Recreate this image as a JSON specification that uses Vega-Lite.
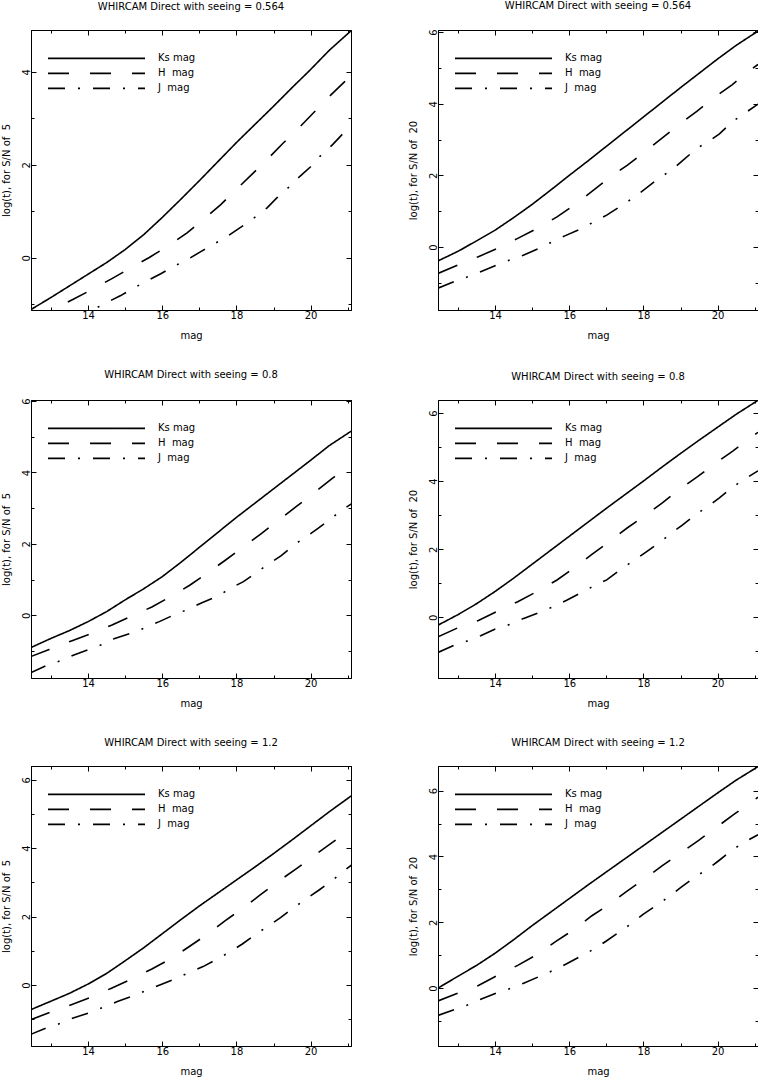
{
"$schema": "https://vega.github.io/schema/vega-lite/v6.json",
"padding": 0,
"background": "white",
"datasets": {
"p1": [
{"band":"Ks","mag":12.46,"logt":-1.11},{"band":"Ks","mag":13,"logt":-0.85},{"band":"Ks","mag":13.5,"logt":-0.6},{"band":"Ks","mag":14,"logt":-0.35},{"band":"Ks","mag":14.5,"logt":-0.1},{"band":"Ks","mag":15,"logt":0.18},{"band":"Ks","mag":15.5,"logt":0.5},{"band":"Ks","mag":16,"logt":0.87},{"band":"Ks","mag":16.5,"logt":1.26},{"band":"Ks","mag":17,"logt":1.66},{"band":"Ks","mag":17.5,"logt":2.07},{"band":"Ks","mag":18,"logt":2.48},{"band":"Ks","mag":18.5,"logt":2.87},{"band":"Ks","mag":19,"logt":3.26},{"band":"Ks","mag":19.5,"logt":3.66},{"band":"Ks","mag":20,"logt":4.05},{"band":"Ks","mag":20.5,"logt":4.46},{"band":"Ks","mag":21.1,"logt":4.89},
{"band":"H","mag":12.46,"logt":-1.38},{"band":"H","mag":13.08,"logt":-1.09},{"band":"H","mag":13.6,"logt":-0.89},{"band":"H","mag":14.1,"logt":-0.68},{"band":"H","mag":14.63,"logt":-0.45},{"band":"H","mag":15.14,"logt":-0.22},{"band":"H","mag":15.65,"logt":0.01},{"band":"H","mag":16.16,"logt":0.26},{"band":"H","mag":16.67,"logt":0.54},{"band":"H","mag":17.13,"logt":0.84},{"band":"H","mag":17.57,"logt":1.14},{"band":"H","mag":17.98,"logt":1.46},{"band":"H","mag":18.41,"logt":1.79},{"band":"H","mag":18.81,"logt":2.1},{"band":"H","mag":19.25,"logt":2.46},{"band":"H","mag":19.68,"logt":2.79},{"band":"H","mag":20.08,"logt":3.12},{"band":"H","mag":20.49,"logt":3.46},{"band":"H","mag":20.92,"logt":3.79},{"band":"H","mag":21.1,"logt":3.93},
{"band":"J","mag":12.46,"logt":-1.8},{"band":"J","mag":13.2,"logt":-1.5},{"band":"J","mag":14.14,"logt":-1.11},{"band":"J","mag":14.55,"logt":-0.94},{"band":"J","mag":14.88,"logt":-0.81},{"band":"J","mag":15.2,"logt":-0.66},{"band":"J","mag":15.65,"logt":-0.47},{"band":"J","mag":15.96,"logt":-0.34},{"band":"J","mag":16.32,"logt":-0.18},{"band":"J","mag":16.71,"logt":-0.02},{"band":"J","mag":17.05,"logt":0.14},{"band":"J","mag":17.4,"logt":0.3},{"band":"J","mag":17.8,"logt":0.49},{"band":"J","mag":18.12,"logt":0.66},{"band":"J","mag":18.44,"logt":0.84},{"band":"J","mag":18.82,"logt":1.07},{"band":"J","mag":19.09,"logt":1.29},{"band":"J","mag":19.36,"logt":1.48},{"band":"J","mag":19.72,"logt":1.76},{"band":"J","mag":20.0,"logt":1.96},{"band":"J","mag":20.26,"logt":2.19},{"band":"J","mag":20.6,"logt":2.44},{"band":"J","mag":20.87,"logt":2.67},{"band":"J","mag":21.1,"logt":2.85}
],
"p2": [
{"band":"Ks","mag":12.46,"logt":-0.39},{"band":"Ks","mag":13,"logt":-0.12},{"band":"Ks","mag":13.5,"logt":0.17},{"band":"Ks","mag":14,"logt":0.47},{"band":"Ks","mag":14.5,"logt":0.82},{"band":"Ks","mag":15,"logt":1.19},{"band":"Ks","mag":15.5,"logt":1.59},{"band":"Ks","mag":16,"logt":2.0},{"band":"Ks","mag":16.5,"logt":2.4},{"band":"Ks","mag":17,"logt":2.81},{"band":"Ks","mag":17.5,"logt":3.22},{"band":"Ks","mag":18,"logt":3.63},{"band":"Ks","mag":18.5,"logt":4.04},{"band":"Ks","mag":19,"logt":4.45},{"band":"Ks","mag":19.5,"logt":4.85},{"band":"Ks","mag":20,"logt":5.25},{"band":"Ks","mag":20.5,"logt":5.63},{"band":"Ks","mag":21.09,"logt":6.03},
{"band":"H","mag":12.46,"logt":-0.74},{"band":"H","mag":13.05,"logt":-0.48},{"band":"H","mag":13.55,"logt":-0.27},{"band":"H","mag":14.1,"logt":-0.02},{"band":"H","mag":14.61,"logt":0.24},{"band":"H","mag":15.17,"logt":0.54},{"band":"H","mag":15.67,"logt":0.84},{"band":"H","mag":16.16,"logt":1.19},{"band":"H","mag":16.62,"logt":1.56},{"band":"H","mag":17.1,"logt":1.95},{"band":"H","mag":17.56,"logt":2.28},{"band":"H","mag":18.05,"logt":2.67},{"band":"H","mag":18.51,"logt":3.05},{"band":"H","mag":18.99,"logt":3.44},{"band":"H","mag":19.44,"logt":3.79},{"band":"H","mag":19.92,"logt":4.18},{"band":"H","mag":20.39,"logt":4.53},{"band":"H","mag":20.86,"logt":4.92},{"band":"H","mag":21.09,"logt":5.1},
{"band":"J","mag":12.46,"logt":-1.15},{"band":"J","mag":12.94,"logt":-0.95},{"band":"J","mag":13.24,"logt":-0.84},{"band":"J","mag":13.61,"logt":-0.69},{"band":"J","mag":14.05,"logt":-0.5},{"band":"J","mag":14.41,"logt":-0.36},{"band":"J","mag":14.76,"logt":-0.23},{"band":"J","mag":15.23,"logt":-0.02},{"band":"J","mag":15.55,"logt":0.15},{"band":"J","mag":15.88,"logt":0.31},{"band":"J","mag":16.34,"logt":0.52},{"band":"J","mag":16.68,"logt":0.71},{"band":"J","mag":17.01,"logt":0.89},{"band":"J","mag":17.43,"logt":1.17},{"band":"J","mag":17.75,"logt":1.39},{"band":"J","mag":18.03,"logt":1.61},{"band":"J","mag":18.43,"logt":1.93},{"band":"J","mag":18.75,"logt":2.14},{"band":"J","mag":19.04,"logt":2.4},{"band":"J","mag":19.46,"logt":2.77},{"band":"J","mag":19.76,"logt":2.95},{"band":"J","mag":20.05,"logt":3.16},{"band":"J","mag":20.41,"logt":3.51},{"band":"J","mag":20.7,"logt":3.71},{"band":"J","mag":21.09,"logt":3.99}
],
"p3": [
{"band":"Ks","mag":12.43,"logt":-0.92},{"band":"Ks","mag":13,"logt":-0.65},{"band":"Ks","mag":13.5,"logt":-0.43},{"band":"Ks","mag":14,"logt":-0.18},{"band":"Ks","mag":14.5,"logt":0.1},{"band":"Ks","mag":15,"logt":0.43},{"band":"Ks","mag":15.5,"logt":0.74},{"band":"Ks","mag":16,"logt":1.08},{"band":"Ks","mag":16.5,"logt":1.48},{"band":"Ks","mag":17,"logt":1.9},{"band":"Ks","mag":17.5,"logt":2.32},{"band":"Ks","mag":18,"logt":2.74},{"band":"Ks","mag":18.5,"logt":3.14},{"band":"Ks","mag":19,"logt":3.54},{"band":"Ks","mag":19.5,"logt":3.94},{"band":"Ks","mag":20,"logt":4.34},{"band":"Ks","mag":20.5,"logt":4.75},{"band":"Ks","mag":21.1,"logt":5.16},
{"band":"H","mag":12.43,"logt":-1.17},{"band":"H","mag":12.95,"logt":-0.96},{"band":"H","mag":13.55,"logt":-0.72},{"band":"H","mag":14.09,"logt":-0.51},{"band":"H","mag":14.63,"logt":-0.28},{"band":"H","mag":15.18,"logt":-0.02},{"band":"H","mag":15.72,"logt":0.23},{"band":"H","mag":16.26,"logt":0.54},{"band":"H","mag":16.74,"logt":0.84},{"band":"H","mag":17.26,"logt":1.21},{"band":"H","mag":17.7,"logt":1.54},{"band":"H","mag":18.22,"logt":1.94},{"band":"H","mag":18.68,"logt":2.29},{"band":"H","mag":19.17,"logt":2.69},{"band":"H","mag":19.61,"logt":3.04},{"band":"H","mag":20.09,"logt":3.43},{"band":"H","mag":20.56,"logt":3.81},{"band":"H","mag":21.01,"logt":4.18},{"band":"H","mag":21.1,"logt":4.25},
{"band":"J","mag":12.43,"logt":-1.62},{"band":"J","mag":12.9,"logt":-1.4},{"band":"J","mag":13.25,"logt":-1.28},{"band":"J","mag":13.6,"logt":-1.12},{"band":"J","mag":14.05,"logt":-0.95},{"band":"J","mag":14.41,"logt":-0.81},{"band":"J","mag":14.72,"logt":-0.65},{"band":"J","mag":15.2,"logt":-0.49},{"band":"J","mag":15.54,"logt":-0.35},{"band":"J","mag":15.92,"logt":-0.18},{"band":"J","mag":16.36,"logt":0.03},{"band":"J","mag":16.71,"logt":0.17},{"band":"J","mag":17.07,"logt":0.35},{"band":"J","mag":17.51,"logt":0.54},{"band":"J","mag":17.83,"logt":0.75},{"band":"J","mag":18.19,"logt":0.94},{"band":"J","mag":18.57,"logt":1.22},{"band":"J","mag":18.89,"logt":1.45},{"band":"J","mag":19.2,"logt":1.66},{"band":"J","mag":19.58,"logt":1.99},{"band":"J","mag":19.88,"logt":2.2},{"band":"J","mag":20.2,"logt":2.43},{"band":"J","mag":20.58,"logt":2.73},{"band":"J","mag":20.88,"logt":2.97},{"band":"J","mag":21.1,"logt":3.12}
],
"p4": [
{"band":"Ks","mag":12.46,"logt":-0.23},{"band":"Ks","mag":13,"logt":0.08},{"band":"Ks","mag":13.5,"logt":0.4},{"band":"Ks","mag":14,"logt":0.76},{"band":"Ks","mag":14.5,"logt":1.15},{"band":"Ks","mag":15,"logt":1.56},{"band":"Ks","mag":15.5,"logt":1.97},{"band":"Ks","mag":16,"logt":2.38},{"band":"Ks","mag":16.5,"logt":2.79},{"band":"Ks","mag":17,"logt":3.2},{"band":"Ks","mag":17.5,"logt":3.6},{"band":"Ks","mag":18,"logt":4.0},{"band":"Ks","mag":18.5,"logt":4.41},{"band":"Ks","mag":19,"logt":4.81},{"band":"Ks","mag":19.5,"logt":5.2},{"band":"Ks","mag":20,"logt":5.58},{"band":"Ks","mag":20.5,"logt":5.96},{"band":"Ks","mag":21.09,"logt":6.37},
{"band":"H","mag":12.46,"logt":-0.57},{"band":"H","mag":13.01,"logt":-0.3},{"band":"H","mag":13.55,"logt":-0.09},{"band":"H","mag":14.1,"logt":0.2},{"band":"H","mag":14.61,"logt":0.46},{"band":"H","mag":15.15,"logt":0.77},{"band":"H","mag":15.66,"logt":1.09},{"band":"H","mag":16.14,"logt":1.46},{"band":"H","mag":16.61,"logt":1.85},{"band":"H","mag":17.1,"logt":2.24},{"band":"H","mag":17.57,"logt":2.63},{"band":"H","mag":18.05,"logt":2.99},{"band":"H","mag":18.51,"logt":3.36},{"band":"H","mag":18.99,"logt":3.77},{"band":"H","mag":19.46,"logt":4.13},{"band":"H","mag":19.94,"logt":4.52},{"band":"H","mag":20.41,"logt":4.88},{"band":"H","mag":20.88,"logt":5.27},{"band":"H","mag":21.09,"logt":5.43},
{"band":"J","mag":12.46,"logt":-1.03},{"band":"J","mag":12.94,"logt":-0.8},{"band":"J","mag":13.26,"logt":-0.69},{"band":"J","mag":13.61,"logt":-0.54},{"band":"J","mag":13.99,"logt":-0.35},{"band":"J","mag":14.42,"logt":-0.2},{"band":"J","mag":14.77,"logt":-0.03},{"band":"J","mag":15.23,"logt":0.16},{"band":"J","mag":15.57,"logt":0.31},{"band":"J","mag":15.93,"logt":0.5},{"band":"J","mag":16.36,"logt":0.75},{"band":"J","mag":16.68,"logt":0.93},{"band":"J","mag":17.01,"logt":1.1},{"band":"J","mag":17.4,"logt":1.42},{"band":"J","mag":17.73,"logt":1.66},{"band":"J","mag":18.05,"logt":1.9},{"band":"J","mag":18.46,"logt":2.22},{"band":"J","mag":18.74,"logt":2.46},{"band":"J","mag":19.04,"logt":2.7},{"band":"J","mag":19.44,"logt":3.04},{"band":"J","mag":19.76,"logt":3.27},{"band":"J","mag":20.04,"logt":3.5},{"band":"J","mag":20.43,"logt":3.84},{"band":"J","mag":20.73,"logt":4.06},{"band":"J","mag":21.09,"logt":4.3}
],
"p5": [
{"band":"Ks","mag":12.43,"logt":-0.73},{"band":"Ks","mag":13,"logt":-0.47},{"band":"Ks","mag":13.5,"logt":-0.24},{"band":"Ks","mag":14,"logt":0.03},{"band":"Ks","mag":14.5,"logt":0.34},{"band":"Ks","mag":15,"logt":0.71},{"band":"Ks","mag":15.5,"logt":1.09},{"band":"Ks","mag":16,"logt":1.5},{"band":"Ks","mag":16.5,"logt":1.91},{"band":"Ks","mag":17,"logt":2.31},{"band":"Ks","mag":17.5,"logt":2.69},{"band":"Ks","mag":18,"logt":3.07},{"band":"Ks","mag":18.5,"logt":3.45},{"band":"Ks","mag":19,"logt":3.84},{"band":"Ks","mag":19.5,"logt":4.24},{"band":"Ks","mag":20,"logt":4.65},{"band":"Ks","mag":20.5,"logt":5.06},{"band":"Ks","mag":21.1,"logt":5.53},
{"band":"H","mag":12.43,"logt":-1.02},{"band":"H","mag":12.97,"logt":-0.8},{"band":"H","mag":13.53,"logt":-0.58},{"band":"H","mag":14.14,"logt":-0.33},{"band":"H","mag":14.63,"logt":-0.09},{"band":"H","mag":15.2,"logt":0.19},{"band":"H","mag":15.72,"logt":0.47},{"band":"H","mag":16.25,"logt":0.78},{"band":"H","mag":16.72,"logt":1.12},{"band":"H","mag":17.25,"logt":1.51},{"band":"H","mag":17.7,"logt":1.88},{"band":"H","mag":18.2,"logt":2.27},{"band":"H","mag":18.65,"logt":2.64},{"band":"H","mag":19.13,"logt":3.03},{"band":"H","mag":19.62,"logt":3.4},{"band":"H","mag":20.1,"logt":3.79},{"band":"H","mag":20.58,"logt":4.16},{"band":"H","mag":21.07,"logt":4.55},{"band":"H","mag":21.1,"logt":4.57},
{"band":"J","mag":12.43,"logt":-1.45},{"band":"J","mag":12.9,"logt":-1.24},{"band":"J","mag":13.25,"logt":-1.12},{"band":"J","mag":13.6,"logt":-0.96},{"band":"J","mag":14.06,"logt":-0.8},{"band":"J","mag":14.41,"logt":-0.65},{"band":"J","mag":14.79,"logt":-0.48},{"band":"J","mag":15.23,"logt":-0.31},{"band":"J","mag":15.59,"logt":-0.15},{"band":"J","mag":15.95,"logt":0.01},{"band":"J","mag":16.39,"logt":0.2},{"band":"J","mag":16.73,"logt":0.37},{"band":"J","mag":17.1,"logt":0.54},{"band":"J","mag":17.52,"logt":0.78},{"band":"J","mag":17.84,"logt":0.98},{"band":"J","mag":18.16,"logt":1.2},{"band":"J","mag":18.56,"logt":1.51},{"band":"J","mag":18.89,"logt":1.75},{"band":"J","mag":19.19,"logt":1.97},{"band":"J","mag":19.58,"logt":2.29},{"band":"J","mag":19.9,"logt":2.53},{"band":"J","mag":20.22,"logt":2.77},{"band":"J","mag":20.6,"logt":3.07},{"band":"J","mag":20.9,"logt":3.34},{"band":"J","mag":21.1,"logt":3.5}
],
"p6": [
{"band":"Ks","mag":12.46,"logt":0.0},{"band":"Ks","mag":13,"logt":0.36},{"band":"Ks","mag":13.5,"logt":0.69},{"band":"Ks","mag":14,"logt":1.06},{"band":"Ks","mag":14.5,"logt":1.47},{"band":"Ks","mag":15,"logt":1.9},{"band":"Ks","mag":15.5,"logt":2.31},{"band":"Ks","mag":16,"logt":2.72},{"band":"Ks","mag":16.5,"logt":3.13},{"band":"Ks","mag":17,"logt":3.53},{"band":"Ks","mag":17.5,"logt":3.93},{"band":"Ks","mag":18,"logt":4.33},{"band":"Ks","mag":18.5,"logt":4.73},{"band":"Ks","mag":19,"logt":5.13},{"band":"Ks","mag":19.5,"logt":5.53},{"band":"Ks","mag":20,"logt":5.93},{"band":"Ks","mag":20.5,"logt":6.32},{"band":"Ks","mag":21.09,"logt":6.73},
{"band":"H","mag":12.46,"logt":-0.39},{"band":"H","mag":13.01,"logt":-0.15},{"band":"H","mag":13.55,"logt":0.08},{"band":"H","mag":14.1,"logt":0.41},{"band":"H","mag":14.61,"logt":0.69},{"band":"H","mag":15.15,"logt":1.03},{"band":"H","mag":15.64,"logt":1.42},{"band":"H","mag":16.14,"logt":1.79},{"band":"H","mag":16.61,"logt":2.2},{"band":"H","mag":17.1,"logt":2.56},{"band":"H","mag":17.55,"logt":2.94},{"band":"H","mag":18.05,"logt":3.34},{"band":"H","mag":18.51,"logt":3.72},{"band":"H","mag":18.99,"logt":4.1},{"band":"H","mag":19.49,"logt":4.49},{"band":"H","mag":19.96,"logt":4.88},{"band":"H","mag":20.43,"logt":5.27},{"band":"H","mag":20.93,"logt":5.67},{"band":"H","mag":21.09,"logt":5.8},
{"band":"J","mag":12.46,"logt":-0.83},{"band":"J","mag":12.94,"logt":-0.64},{"band":"J","mag":13.27,"logt":-0.51},{"band":"J","mag":13.63,"logt":-0.33},{"band":"J","mag":14.04,"logt":-0.15},{"band":"J","mag":14.44,"logt":0.0},{"band":"J","mag":14.77,"logt":0.15},{"band":"J","mag":15.23,"logt":0.37},{"band":"J","mag":15.57,"logt":0.54},{"band":"J","mag":15.93,"logt":0.74},{"band":"J","mag":16.33,"logt":0.98},{"band":"J","mag":16.69,"logt":1.2},{"band":"J","mag":17.01,"logt":1.44},{"band":"J","mag":17.37,"logt":1.72},{"band":"J","mag":17.7,"logt":1.98},{"band":"J","mag":18.0,"logt":2.25},{"band":"J","mag":18.4,"logt":2.55},{"band":"J","mag":18.7,"logt":2.79},{"band":"J","mag":19.01,"logt":3.06},{"band":"J","mag":19.41,"logt":3.39},{"band":"J","mag":19.74,"logt":3.62},{"band":"J","mag":20.03,"logt":3.87},{"band":"J","mag":20.4,"logt":4.2},{"band":"J","mag":20.71,"logt":4.43},{"band":"J","mag":21.09,"logt":4.66}
]
},
"config": {
"font": "DejaVu Sans",
"view": {"stroke": "black", "strokeWidth": 1},
"axis": {"domainColor": "black", "domainWidth": 1, "tickColor": "black", "tickWidth": 1, "labelColor": "black", "titleColor": "black", "labelFont": "DejaVu Sans", "titleFont": "DejaVu Sans", "labelFontSize": 10, "titleFontSize": 10, "titleFontWeight": "normal", "grid": false, "labelFlush": false, "labelOverlap": false, "labelBound": false},
"axisLeft": {"labelAngle": 270, "labelAlign": "center", "labelBaseline": "alphabetic", "labelPadding": 7, "titlePadding": 8},
"axisBottom": {"labelPadding": 5, "titlePadding": 8},
"title": {"fontSize": 10, "fontWeight": "normal", "font": "DejaVu Sans", "color": "black", "offset": 18},
"style": {"group-title": {"fontWeight": "normal", "fontSize": 10}},
"legend": {"title": null, "orient": "none", "legendX": 16, "legendY": 21, "symbolType": "stroke", "symbolSize": 9409, "symbolStrokeWidth": 1.6, "symbolStrokeColor": "black", "clipHeight": 14.7, "rowPadding": 0, "labelOffset": 12, "labelFontSize": 10, "labelFont": "DejaVu Sans", "labelColor": "black", "padding": 0}
},
"spacing": 28,
"resolve": {"scale": {"strokeDash": "independent"}, "legend": {"strokeDash": "independent"}},
"vconcat": [
{"spacing": 55, "resolve": {"scale": {"strokeDash": "independent"}, "legend": {"strokeDash": "independent"}}, "hconcat": [
{"title": {"text": "WHIRCAM Direct with seeing = 0.564", "fontWeight": "normal"}, "width": 320, "height": 280, "data": {"name": "p1"},
 "layer": [
  {"mark": {"type": "line", "clip": true, "color": "black", "strokeWidth": 1.6},
   "encoding": {
    "x": {"field": "mag", "type": "quantitative", "scale": {"domain": [12.46, 21.09], "nice": false, "zero": false}, "axis": {"orient": "bottom", "title": "mag", "values": [13,14,15,16,17,18,19,20,21], "labelExpr": "datum.value % 2 === 0 ? datum.label : ''", "tickSize": {"condition": {"test": "datum.value % 2 === 0", "value": -5}, "value": -3}}},
    "y": {"field": "logt", "type": "quantitative", "scale": {"domain": [-1.12, 4.9], "nice": false, "zero": false}, "axis": {"orient": "left", "title": "log(t), for S/N of \u00a05", "values": [-1,0,1,2,3,4], "labelExpr": "datum.value % 2 === 0 ? datum.label : ''", "tickSize": {"condition": {"test": "datum.value % 2 === 0", "value": -5}, "value": -3}}},
    "strokeDash": {"field": "band", "type": "nominal", "scale": {"domain": ["Ks", "H", "J"], "range": [[1, 0], [21, 21], [17, 13, 2, 13]]}, "legend": {"labelExpr": "datum.label == 'Ks' ? 'Ks mag' : datum.label + '\u00a0\u00a0mag'"}}
   }},
  {"mark": {"type": "line", "clip": true, "opacity": 0},
   "encoding": {
    "x": {"field": "mag", "type": "quantitative", "axis": {"orient": "top", "title": null, "labels": false, "values": [13,14,15,16,17,18,19,20,21], "tickSize": {"condition": {"test": "datum.value % 2 === 0", "value": -5}, "value": -3}}},
    "y": {"field": "logt", "type": "quantitative", "axis": {"orient": "right", "title": null, "labels": false, "values": [-1,0,1,2,3,4], "tickSize": {"condition": {"test": "datum.value % 2 === 0", "value": -5}, "value": -3}}},
    "detail": {"field": "band"}
   }}
 ],
 "resolve": {"axis": {"x": "independent", "y": "independent"}}
},
{"title": {"text": "WHIRCAM Direct with seeing = 0.564", "fontWeight": "normal"}, "width": 320, "height": 280, "data": {"name": "p2"},
 "layer": [
  {"mark": {"type": "line", "clip": true, "color": "black", "strokeWidth": 1.6},
   "encoding": {
    "x": {"field": "mag", "type": "quantitative", "scale": {"domain": [12.46, 21.09], "nice": false, "zero": false}, "axis": {"orient": "bottom", "title": "mag", "values": [13,14,15,16,17,18,19,20,21], "labelExpr": "datum.value % 2 === 0 ? datum.label : ''", "tickSize": {"condition": {"test": "datum.value % 2 === 0", "value": -5}, "value": -3}}},
    "y": {"field": "logt", "type": "quantitative", "scale": {"domain": [-1.76, 6.06], "nice": false, "zero": false}, "axis": {"orient": "left", "title": "log(t), for S/N of \u00a020", "values": [-1,0,1,2,3,4,5,6], "labelExpr": "datum.value % 2 === 0 ? datum.label : ''", "tickSize": {"condition": {"test": "datum.value % 2 === 0", "value": -5}, "value": -3}}},
    "strokeDash": {"field": "band", "type": "nominal", "scale": {"domain": ["Ks", "H", "J"], "range": [[1, 0], [21, 21], [17, 13, 2, 13]]}, "legend": {"labelExpr": "datum.label == 'Ks' ? 'Ks mag' : datum.label + '\u00a0\u00a0mag'"}}
   }},
  {"mark": {"type": "line", "clip": true, "opacity": 0},
   "encoding": {
    "x": {"field": "mag", "type": "quantitative", "axis": {"orient": "top", "title": null, "labels": false, "values": [13,14,15,16,17,18,19,20,21], "tickSize": {"condition": {"test": "datum.value % 2 === 0", "value": -5}, "value": -3}}},
    "y": {"field": "logt", "type": "quantitative", "axis": {"orient": "right", "title": null, "labels": false, "values": [-1,0,1,2,3,4,5,6], "tickSize": {"condition": {"test": "datum.value % 2 === 0", "value": -5}, "value": -3}}},
    "detail": {"field": "band"}
   }}
 ],
 "resolve": {"axis": {"x": "independent", "y": "independent"}}
}
]},
{"spacing": 55, "resolve": {"scale": {"strokeDash": "independent"}, "legend": {"strokeDash": "independent"}}, "hconcat": [
{"title": {"text": "WHIRCAM Direct with seeing = 0.8", "fontWeight": "normal"}, "width": 320, "height": 278, "data": {"name": "p3"},
 "layer": [
  {"mark": {"type": "line", "clip": true, "color": "black", "strokeWidth": 1.6},
   "encoding": {
    "x": {"field": "mag", "type": "quantitative", "scale": {"domain": [12.46, 21.09], "nice": false, "zero": false}, "axis": {"orient": "bottom", "title": "mag", "values": [13,14,15,16,17,18,19,20,21], "labelExpr": "datum.value % 2 === 0 ? datum.label : ''", "tickSize": {"condition": {"test": "datum.value % 2 === 0", "value": -5}, "value": -3}}},
    "y": {"field": "logt", "type": "quantitative", "scale": {"domain": [-1.76, 6.03], "nice": false, "zero": false}, "axis": {"orient": "left", "title": "log(t), for S/N of \u00a05", "values": [-1,0,1,2,3,4,5,6], "labelExpr": "datum.value % 2 === 0 ? datum.label : ''", "tickSize": {"condition": {"test": "datum.value % 2 === 0", "value": -5}, "value": -3}}},
    "strokeDash": {"field": "band", "type": "nominal", "scale": {"domain": ["Ks", "H", "J"], "range": [[1, 0], [21, 21], [17, 13, 2, 13]]}, "legend": {"labelExpr": "datum.label == 'Ks' ? 'Ks mag' : datum.label + '\u00a0\u00a0mag'"}}
   }},
  {"mark": {"type": "line", "clip": true, "opacity": 0},
   "encoding": {
    "x": {"field": "mag", "type": "quantitative", "axis": {"orient": "top", "title": null, "labels": false, "values": [13,14,15,16,17,18,19,20,21], "tickSize": {"condition": {"test": "datum.value % 2 === 0", "value": -5}, "value": -3}}},
    "y": {"field": "logt", "type": "quantitative", "axis": {"orient": "right", "title": null, "labels": false, "values": [-1,0,1,2,3,4,5,6], "tickSize": {"condition": {"test": "datum.value % 2 === 0", "value": -5}, "value": -3}}},
    "detail": {"field": "band"}
   }}
 ],
 "resolve": {"axis": {"x": "independent", "y": "independent"}}
},
{"title": {"text": "WHIRCAM Direct with seeing = 0.8", "fontWeight": "normal"}, "width": 320, "height": 278, "data": {"name": "p4"},
 "layer": [
  {"mark": {"type": "line", "clip": true, "color": "black", "strokeWidth": 1.6},
   "encoding": {
    "x": {"field": "mag", "type": "quantitative", "scale": {"domain": [12.46, 21.09], "nice": false, "zero": false}, "axis": {"orient": "bottom", "title": "mag", "values": [13,14,15,16,17,18,19,20,21], "labelExpr": "datum.value % 2 === 0 ? datum.label : ''", "tickSize": {"condition": {"test": "datum.value % 2 === 0", "value": -5}, "value": -3}}},
    "y": {"field": "logt", "type": "quantitative", "scale": {"domain": [-1.78, 6.38], "nice": false, "zero": false}, "axis": {"orient": "left", "title": "log(t), for S/N of \u00a020", "values": [-1,0,1,2,3,4,5,6], "labelExpr": "datum.value % 2 === 0 ? datum.label : ''", "tickSize": {"condition": {"test": "datum.value % 2 === 0", "value": -5}, "value": -3}}},
    "strokeDash": {"field": "band", "type": "nominal", "scale": {"domain": ["Ks", "H", "J"], "range": [[1, 0], [21, 21], [17, 13, 2, 13]]}, "legend": {"labelExpr": "datum.label == 'Ks' ? 'Ks mag' : datum.label + '\u00a0\u00a0mag'"}}
   }},
  {"mark": {"type": "line", "clip": true, "opacity": 0},
   "encoding": {
    "x": {"field": "mag", "type": "quantitative", "axis": {"orient": "top", "title": null, "labels": false, "values": [13,14,15,16,17,18,19,20,21], "tickSize": {"condition": {"test": "datum.value % 2 === 0", "value": -5}, "value": -3}}},
    "y": {"field": "logt", "type": "quantitative", "axis": {"orient": "right", "title": null, "labels": false, "values": [-1,0,1,2,3,4,5,6], "tickSize": {"condition": {"test": "datum.value % 2 === 0", "value": -5}, "value": -3}}},
    "detail": {"field": "band"}
   }}
 ],
 "resolve": {"axis": {"x": "independent", "y": "independent"}}
}
]},
{"spacing": 55, "resolve": {"scale": {"strokeDash": "independent"}, "legend": {"strokeDash": "independent"}}, "hconcat": [
{"title": {"text": "WHIRCAM Direct with seeing = 1.2", "fontWeight": "normal"}, "width": 320, "height": 280, "data": {"name": "p5"},
 "layer": [
  {"mark": {"type": "line", "clip": true, "color": "black", "strokeWidth": 1.6},
   "encoding": {
    "x": {"field": "mag", "type": "quantitative", "scale": {"domain": [12.46, 21.09], "nice": false, "zero": false}, "axis": {"orient": "bottom", "title": "mag", "values": [13,14,15,16,17,18,19,20,21], "labelExpr": "datum.value % 2 === 0 ? datum.label : ''", "tickSize": {"condition": {"test": "datum.value % 2 === 0", "value": -5}, "value": -3}}},
    "y": {"field": "logt", "type": "quantitative", "scale": {"domain": [-1.78, 6.4], "nice": false, "zero": false}, "axis": {"orient": "left", "title": "log(t), for S/N of \u00a05", "values": [-1,0,1,2,3,4,5,6], "labelExpr": "datum.value % 2 === 0 ? datum.label : ''", "tickSize": {"condition": {"test": "datum.value % 2 === 0", "value": -5}, "value": -3}}},
    "strokeDash": {"field": "band", "type": "nominal", "scale": {"domain": ["Ks", "H", "J"], "range": [[1, 0], [21, 21], [17, 13, 2, 13]]}, "legend": {"labelExpr": "datum.label == 'Ks' ? 'Ks mag' : datum.label + '\u00a0\u00a0mag'"}}
   }},
  {"mark": {"type": "line", "clip": true, "opacity": 0},
   "encoding": {
    "x": {"field": "mag", "type": "quantitative", "axis": {"orient": "top", "title": null, "labels": false, "values": [13,14,15,16,17,18,19,20,21], "tickSize": {"condition": {"test": "datum.value % 2 === 0", "value": -5}, "value": -3}}},
    "y": {"field": "logt", "type": "quantitative", "axis": {"orient": "right", "title": null, "labels": false, "values": [-1,0,1,2,3,4,5,6], "tickSize": {"condition": {"test": "datum.value % 2 === 0", "value": -5}, "value": -3}}},
    "detail": {"field": "band"}
   }}
 ],
 "resolve": {"axis": {"x": "independent", "y": "independent"}}
},
{"title": {"text": "WHIRCAM Direct with seeing = 1.2", "fontWeight": "normal"}, "width": 320, "height": 280, "data": {"name": "p6"},
 "layer": [
  {"mark": {"type": "line", "clip": true, "color": "black", "strokeWidth": 1.6},
   "encoding": {
    "x": {"field": "mag", "type": "quantitative", "scale": {"domain": [12.46, 21.09], "nice": false, "zero": false}, "axis": {"orient": "bottom", "title": "mag", "values": [13,14,15,16,17,18,19,20,21], "labelExpr": "datum.value % 2 === 0 ? datum.label : ''", "tickSize": {"condition": {"test": "datum.value % 2 === 0", "value": -5}, "value": -3}}},
    "y": {"field": "logt", "type": "quantitative", "scale": {"domain": [-1.76, 6.75], "nice": false, "zero": false}, "axis": {"orient": "left", "title": "log(t), for S/N of \u00a020", "values": [-1,0,1,2,3,4,5,6], "labelExpr": "datum.value % 2 === 0 ? datum.label : ''", "tickSize": {"condition": {"test": "datum.value % 2 === 0", "value": -5}, "value": -3}}},
    "strokeDash": {"field": "band", "type": "nominal", "scale": {"domain": ["Ks", "H", "J"], "range": [[1, 0], [21, 21], [17, 13, 2, 13]]}, "legend": {"labelExpr": "datum.label == 'Ks' ? 'Ks mag' : datum.label + '\u00a0\u00a0mag'"}}
   }},
  {"mark": {"type": "line", "clip": true, "opacity": 0},
   "encoding": {
    "x": {"field": "mag", "type": "quantitative", "axis": {"orient": "top", "title": null, "labels": false, "values": [13,14,15,16,17,18,19,20,21], "tickSize": {"condition": {"test": "datum.value % 2 === 0", "value": -5}, "value": -3}}},
    "y": {"field": "logt", "type": "quantitative", "axis": {"orient": "right", "title": null, "labels": false, "values": [-1,0,1,2,3,4,5,6], "tickSize": {"condition": {"test": "datum.value % 2 === 0", "value": -5}, "value": -3}}},
    "detail": {"field": "band"}
   }}
 ],
 "resolve": {"axis": {"x": "independent", "y": "independent"}}
}
]}
]
}
